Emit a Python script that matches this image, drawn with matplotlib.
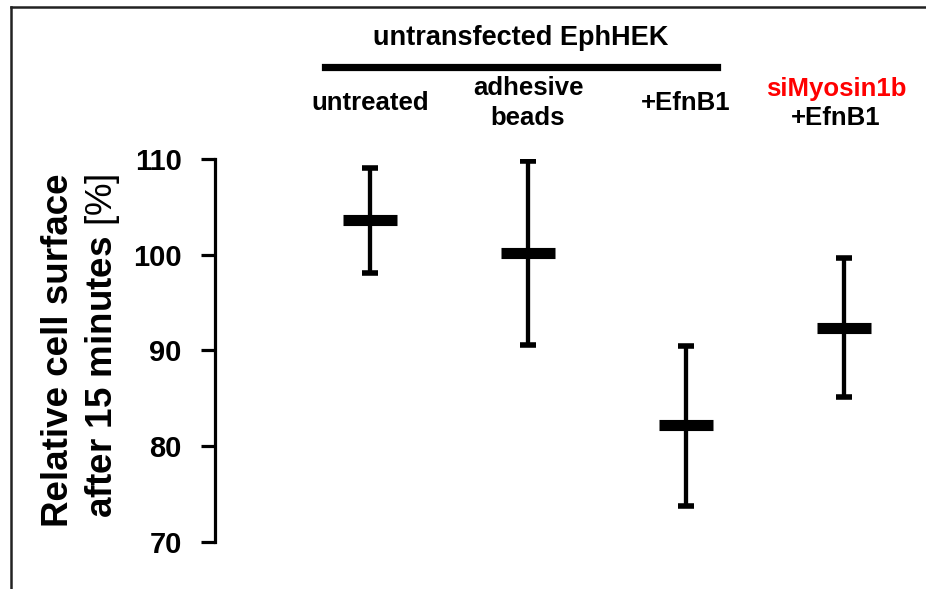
import matplotlib
matplotlib.use('Agg')
from matplotlib import pyplot as plt
from matplotlib.lines import Line2D

plt.rcParams['font.family'] = ['Liberation Sans', 'DejaVu Sans']
plt.rcParams['mathtext.fontset'] = 'custom'
plt.rcParams['mathtext.rm'] = 'Liberation Sans'

# data
groups = ['untreated', 'adhesive\nbeads', '+EfnB1', '+EfnB1']
means = [103.6, 100.2, 82.2, 92.4]
upper = [109.1, 109.8, 90.5, 99.7]
lower = [98.1, 90.6, 73.8, 85.1]
yticks = [70, 80, 90, 100, 110]

fig = plt.figure(figsize=(9.26, 5.89), dpi=100)
ax = fig.add_axes([215/926, 1-542/589, 700/926, 383/589])

x = list(range(len(means)))
err = [[m - l for m, l in zip(means, lower)], [u - m for m, u in zip(means, upper)]]
ax.errorbar(x, means, yerr=err, fmt='none', ecolor='black', elinewidth=3.1,
            capsize=6, capthick=4)
for xi, m in zip(x, means):
    ax.plot([xi - 0.17, xi + 0.17], [m, m], color='black', lw=8, solid_capstyle='butt')

ax.set_xlim(-0.981, 3.449)
ax.set_ylim(70, 110)
ax.set_yticks(yticks)
ax.set_yticklabels([str(t) for t in yticks], fontsize=21, fontweight='bold')
ax.tick_params(axis='y', direction='out', length=10, width=2.3, pad=14)
ax.set_xticks([])
for s in ['top', 'right', 'bottom']:
    ax.spines[s].set_visible(False)
ax.spines['left'].set_linewidth(2.3)

fig.text(59/926, 1-350/589, 'Relative cell surface', rotation=90, fontsize=26.5,
         fontweight='bold', ha='center', va='center')
fig.text(103/926, 1-346/589, 'after 15 minutes $\\mathrm{[\\%]}$', rotation=90,
         fontsize=26.5, fontweight='bold', ha='center', va='center')

# category headers
trans = ax.get_xaxis_transform()
for xi, g in zip(x[:3], groups[:3]):
    ax.text(xi, 1 + (159-103)/383, g, transform=trans, ha='center', va='center',
            fontsize=18.5, fontweight='bold', linespacing=1.32, clip_on=False)
ax.text(3 - 8/158, 1 + (159-89)/383, 'siMyosin1b', transform=trans, ha='center', va='center',
        fontsize=18.5, fontweight='bold', color='#ff0000', clip_on=False)
ax.text(3 - 8/158, 1 + (159-118)/383, groups[3], transform=trans, ha='center', va='center',
        fontsize=18.5, fontweight='bold', clip_on=False)

fig.text(521/926, 1-38/589, 'untransfected EphHEK', ha='center', va='center',
         fontsize=19.5, fontweight='bold')
fig.add_artist(Line2D([325/926, 717/926], [1-67/589, 1-67/589], color='black', lw=5.2))

# outer frame (left and top only)
fig.add_artist(Line2D([11/926, 11/926], [0, 1-7/589], color='#222222', lw=1.8))
fig.add_artist(Line2D([11/926, 1], [1-7/589, 1-7/589], color='#222222', lw=1.8))

fig.savefig('out.png', dpi=100)
